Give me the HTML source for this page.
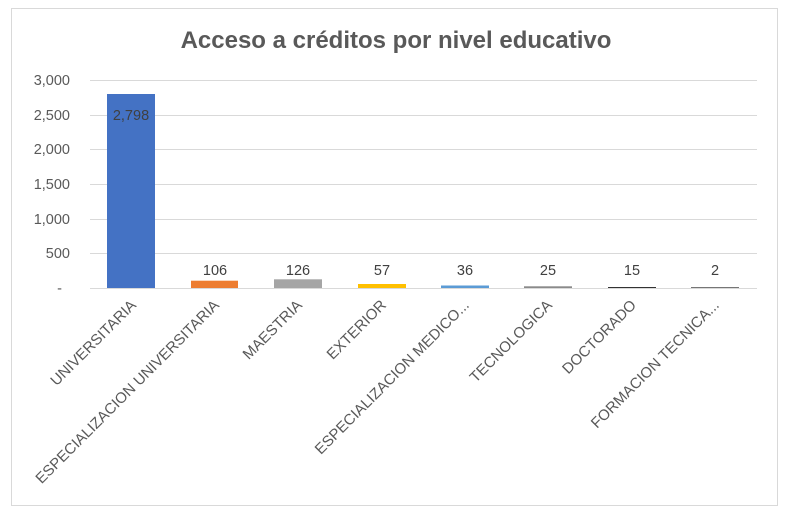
<!DOCTYPE html>
<html><head><meta charset="utf-8"><style>
body{margin:0;background:#fff}
svg{display:block;font-family:"Liberation Sans",sans-serif}
</style></head><body>
<svg width="787" height="512" viewBox="0 0 787 512">
<rect x="0" y="0" width="787" height="512" fill="#fff"/>
<rect x="11.5" y="8.5" width="766" height="497" fill="#fff" stroke="#d9d9d9"/>
<text x="396" y="48" text-anchor="middle" font-size="24" font-weight="bold" fill="#595959">Acceso a créditos por nivel educativo</text>
<g stroke="#d9d9d9" stroke-width="1">
<line x1="90" x2="757" y1="80.5" y2="80.5"/>
<line x1="90" x2="757" y1="115.5" y2="115.5"/>
<line x1="90" x2="757" y1="149.5" y2="149.5"/>
<line x1="90" x2="757" y1="184.5" y2="184.5"/>
<line x1="90" x2="757" y1="219.5" y2="219.5"/>
<line x1="90" x2="757" y1="253.5" y2="253.5"/>
</g>
<g font-size="14.5" fill="#595959" text-anchor="end">
<text x="70" y="85">3,000</text>
<text x="70" y="120">2,500</text>
<text x="70" y="154">2,000</text>
<text x="70" y="189">1,500</text>
<text x="70" y="224">1,000</text>
<text x="70" y="258">500</text>
<text x="62" y="293">-</text>
</g>
<rect x="107" y="94" width="48" height="194" fill="#4472C4"/>
<rect x="191" y="280.7" width="47" height="7.3" fill="#ED7D31"/>
<rect x="274" y="279.3" width="48" height="8.7" fill="#A5A5A5"/>
<rect x="358" y="284" width="48" height="4" fill="#FFC000"/>
<rect x="441" y="285.5" width="48" height="2.5" fill="#5B9BD5"/>
<rect x="524" y="286.3" width="48" height="1.7" fill="#8a8a8a"/>
<rect x="608" y="287" width="48" height="1" fill="#333"/>
<rect x="691" y="287.2" width="48" height="0.8" fill="#555"/>
<line x1="90" x2="757" y1="288.5" y2="288.5" stroke="#d9d9d9"/>
<g font-size="14.5" fill="#404040" text-anchor="middle">
<text x="131" y="120">2,798</text>
<text x="215" y="275">106</text>
<text x="298" y="275">126</text>
<text x="382" y="275">57</text>
<text x="465" y="275">36</text>
<text x="548" y="275">25</text>
<text x="632" y="275">15</text>
<text x="715" y="275">2</text>
</g>
<g font-size="15" fill="#595959" text-anchor="end">
<text transform="translate(137,306) rotate(-45)">UNIVERSITARIA</text>
<text transform="translate(220,306) rotate(-45)">ESPECIALIZACION UNIVERSITARIA</text>
<text transform="translate(303,306) rotate(-45)">MAESTRIA</text>
<text transform="translate(387,306) rotate(-45)">EXTERIOR</text>
<text transform="translate(470,306) rotate(-45)">ESPECIALIZACION MEDICO...</text>
<text transform="translate(553,306) rotate(-45)">TECNOLOGICA</text>
<text transform="translate(637,306) rotate(-45)">DOCTORADO</text>
<text transform="translate(720,306) rotate(-45)">FORMACION TECNICA...</text>
</g>
</svg>
</body></html>
